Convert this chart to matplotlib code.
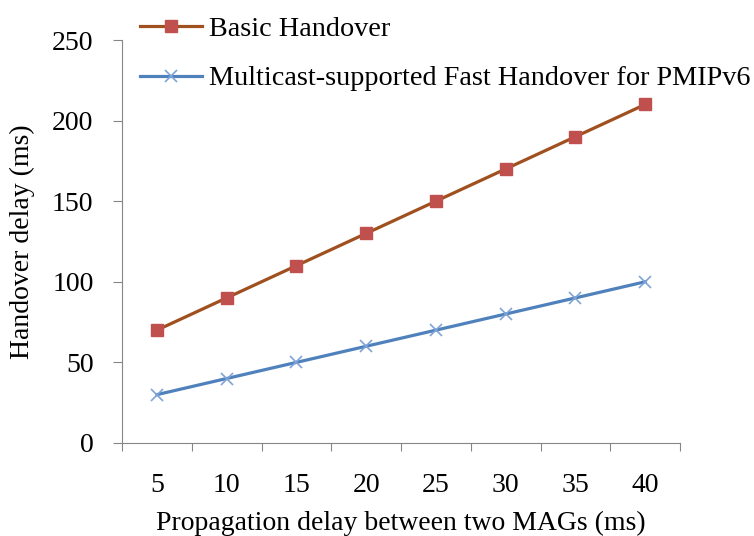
import numpy as np
import matplotlib.pyplot as plt

plt.rcParams['font.family'] = ['Liberation Serif', 'DejaVu Serif']

prop_delay = ['5', '10', '15', '20', '25', '30', '35', '40']
basic = [70, 90, 110, 130, 150, 170, 190, 210]
fast = [30, 40, 50, 60, 70, 80, 90, 100]

fig = plt.figure(figsize=(7.54, 5.36), dpi=100)
ax = fig.add_axes([122 / 754, 1 - 443 / 536, (680 - 122) / 754, (443 - 40) / 536])

x = np.arange(1, len(prop_delay) + 1)
ax.plot(x, basic, color='#A0501E', lw=2.3, marker='s', ms=9,
        mfc='#C0504D', mec='#C0504D', label='Basic Handover')
ax.plot(x, fast, color='#4F81BD', lw=2.3, marker='x', ms=9, mew=1.2,
        mec='#7FA3D6', label='Multicast-supported Fast Handover for PMIPv6')

ax.set_xlim(0.5, len(prop_delay) + 0.5)
ax.set_ylim(0, 250)
ax.set_yticks(range(0, 251, 50))
# category boundaries get the tick marks, the labels sit between them
ax.set_xticks(np.arange(0.5, len(prop_delay) + 1, 1))
ax.set_xticklabels([])
ax.set_xticks(x, minor=True)
ax.set_xticklabels(prop_delay, minor=True)
ax.tick_params(axis='x', which='major', length=6, direction='out', color='#868686')
ax.tick_params(axis='x', which='minor', length=0, pad=21.5, labelsize=20)
ax.tick_params(axis='y', length=6.5, direction='out', color='#868686', labelsize=20, pad=14)

for s in ['top', 'right']:
    ax.spines[s].set_visible(False)
for s in ['left', 'bottom']:
    ax.spines[s].set_color('#868686')

ax.set_xlabel('Propagation delay between two MAGs (ms)', fontsize=20, labelpad=9)
ax.set_ylabel('Handover delay (ms)', fontsize=20, labelpad=12)

fig.legend(loc='upper left', bbox_to_anchor=(140 / 754, 1 - 16 / 536), frameon=False,
           fontsize=20.3, handlelength=2.2, handletextpad=0.25, labelspacing=0.85,
           borderaxespad=0, borderpad=0)

fig.savefig('out.png', dpi=100)
